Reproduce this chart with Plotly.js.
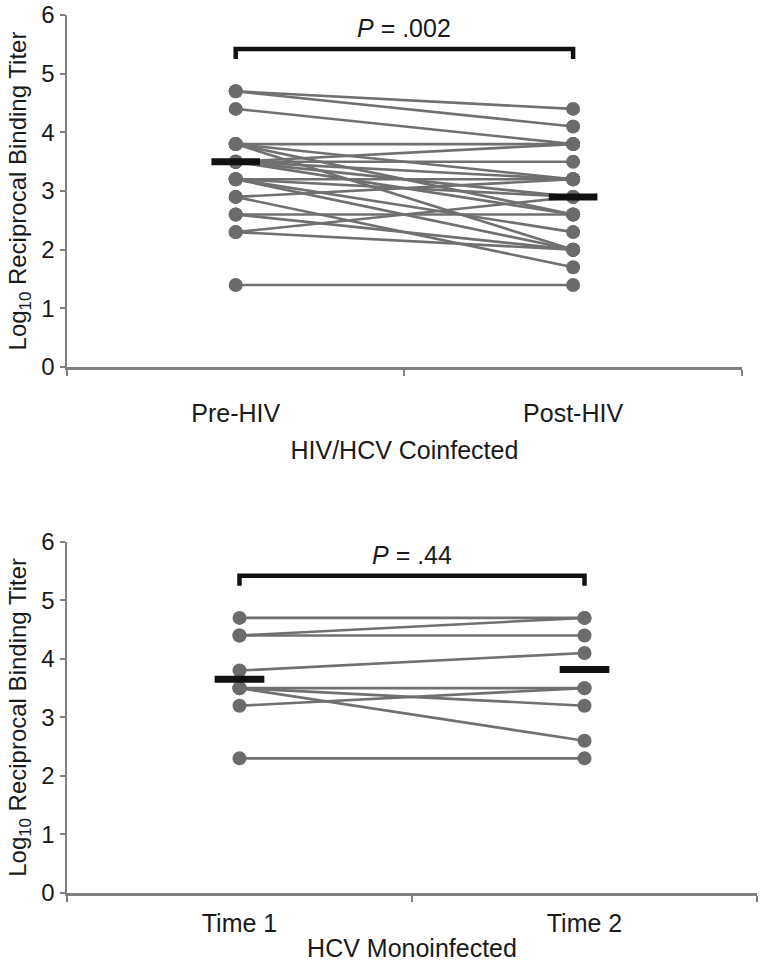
<!DOCTYPE html>
<html>
<head>
<meta charset="utf-8">
<script src="https://cdn.plot.ly/plotly-3.0.1.min.js"></script>
<style>html,body{margin:0;padding:0;background:#fff;}#chart{width:760px;height:970px;}</style>
</head>
<body>
<div id="chart"></div>
<script>
// ---- data ----
const coCategories = ['Pre-HIV', 'Post-HIV'];
const monoCategories = ['Time 1', 'Time 2'];
const yTicks = [0, 1, 2, 3, 4, 5, 6];

// HIV/HCV coinfected: paired log10 titers (pre -> post)
const coPre  = [4.7, 4.7, 4.4, 3.8, 3.8, 3.8, 3.8, 3.5, 3.5, 3.5, 3.5, 3.5, 3.2, 3.2, 3.2, 3.2, 2.9, 2.9, 2.6, 2.6, 2.3, 2.3, 1.4];
const coPost = [4.4, 4.1, 3.8, 3.8, 3.2, 2.6, 2.0, 3.8, 3.5, 3.2, 2.9, 2.6, 3.2, 2.9, 2.3, 2.0, 3.2, 1.7, 2.6, 2.0, 2.9, 2.0, 1.4];
const coMedian = [3.5, 2.9];

// HCV monoinfected: paired log10 titers (time 1 -> time 2)
const monoPre  = [4.7, 4.4, 4.4, 3.8, 3.5, 3.5, 3.5, 3.2, 2.3];
const monoPost = [4.7, 4.7, 4.4, 4.1, 3.5, 3.2, 2.6, 3.5, 2.3];
const monoMedian = [3.65, 3.82];

const pValues = ['.002', '.44'];
const bracketTop = 5.42, bracketFoot = 5.25, pTextY = 5.78;

// ---- styling ----
const FONT = 'Liberation Sans, Arial, sans-serif';
const TXT = '#1a1a1a';
const AXC = '#808080';
const LINEC = '#707070';
const DOTC = '#6b6b6b';
const BAR_HALF = 0.072;

function panelTraces(pre, post, med, xa, ya) {
  const lx = [], ly = [];
  pre.forEach((v, i) => { lx.push(0, 1, null); ly.push(v, post[i], null); });
  const mx = [], my = [];
  pre.forEach(v => { mx.push(0); my.push(v); });
  post.forEach(v => { mx.push(1); my.push(v); });
  const bx = [], by = [];
  med.forEach((m, i) => { bx.push(i - BAR_HALF, i + BAR_HALF, null); by.push(m, m, null); });
  return [
    {type: 'scatter', mode: 'lines', x: lx, y: ly, xaxis: xa, yaxis: ya,
     line: {color: LINEC, width: 2.6}, hoverinfo: 'skip', cliponaxis: false},
    {type: 'scatter', mode: 'markers', x: mx, y: my, xaxis: xa, yaxis: ya,
     marker: {color: DOTC, size: 14, line: {width: 0}}, cliponaxis: false},
    {type: 'scatter', mode: 'lines', x: bx, y: by, xaxis: xa, yaxis: ya,
     line: {color: '#111', width: 7}, cliponaxis: false},
    {type: 'scatter', mode: 'lines', x: [0, 0, 1, 1], y: [bracketFoot, bracketTop, bracketTop, bracketFoot],
     xaxis: xa, yaxis: ya, line: {color: '#111', width: 4.5}, cliponaxis: false}
  ];
}

const data = [
  ...panelTraces(coPre, coPost, coMedian, 'x', 'y'),
  ...panelTraces(monoPre, monoPost, monoMedian, 'x2', 'y2')
];

function xAxis(cats, titleText, domain, anchor, labelGap, titleGap) {
  return {
    domain: domain, anchor: anchor, range: [-0.5, 1.5],
    tickmode: 'array', tickvals: [0, 1], ticktext: cats, ticks: '',
    ticklabelstandoff: labelGap,
    minor: {tickmode: 'array', tickvals: [-0.5, 0.5, 1.5], ticks: 'outside', ticklen: 6, tickwidth: 2, tickcolor: AXC},
    showline: true, linecolor: AXC, linewidth: 2.5, showgrid: false, zeroline: false,
    tickfont: {family: FONT, size: 25, color: TXT},
    title: {text: titleText, font: {family: FONT, size: 25, color: TXT}, standoff: titleGap}
  };
}
function yAxis(domain, anchor) {
  return {
    domain: domain, anchor: anchor, range: [0, 6],
    tickmode: 'array', tickvals: yTicks, ticks: 'outside', ticklen: 5, tickwidth: 2, tickcolor: AXC,
    showline: true, linecolor: AXC, linewidth: 2.5, showgrid: false, zeroline: false,
    tickfont: {family: FONT, size: 24, color: TXT},
    title: {text: 'Log<sub>10</sub> Reciprocal Binding Titer', font: {family: FONT, size: 24, color: TXT}, standoff: 8}
  };
}

const layout = {
  width: 760, height: 970,
  margin: {l: 67, r: 3, t: 15, b: 77},
  paper_bgcolor: '#fff', plot_bgcolor: '#fff',
  showlegend: false,
  xaxis: xAxis(coCategories, 'HIV/HCV Coinfected', [0, 0.978], 'y', 22, 16),
  yaxis: yAxis([0.599, 1], 'x'),
  xaxis2: xAxis(monoCategories, 'HCV Monoinfected', [0, 1], 'y2', 6, 4),
  yaxis2: yAxis([0, 0.4], 'x2'),
  annotations: [
    {xref: 'x', yref: 'y', x: 0.5, y: pTextY, text: '<i>P</i> = ' + pValues[0], showarrow: false,
     font: {family: FONT, size: 25, color: TXT}},
    {xref: 'x2', yref: 'y2', x: 0.5, y: pTextY, text: '<i>P</i> = ' + pValues[1], showarrow: false,
     font: {family: FONT, size: 25, color: TXT}}
  ]
};

Plotly.newPlot('chart', data, layout, {displayModeBar: false, staticPlot: true});
</script>
</body>
</html>
